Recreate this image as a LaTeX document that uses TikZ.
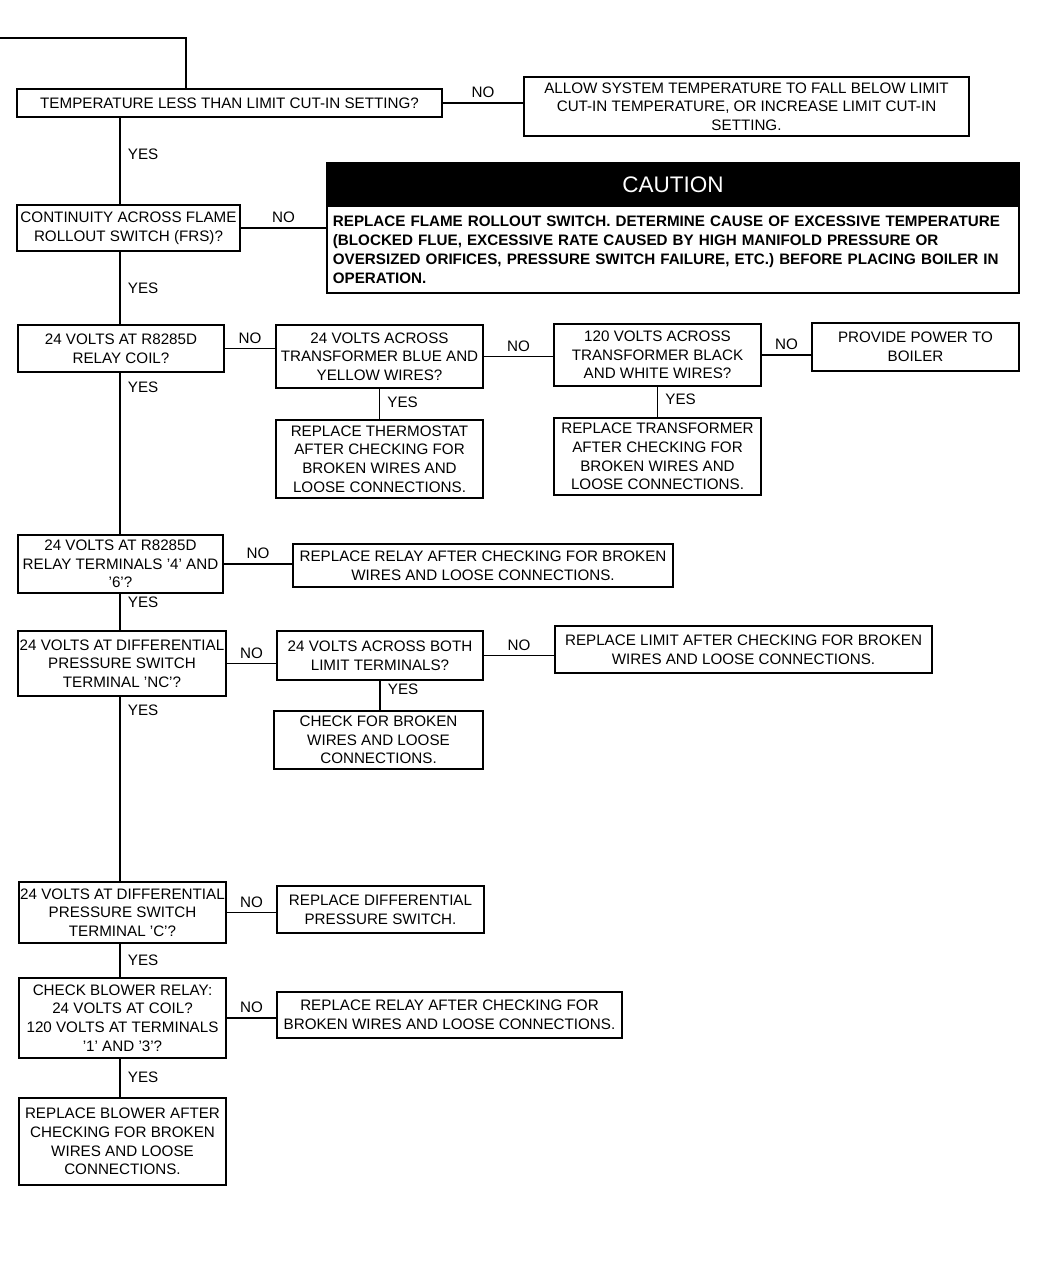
\documentclass[tikz,border=0pt]{standalone}
\usepackage{fontspec}
\setmainfont{Liberation Sans}
\usetikzlibrary{positioning}

\begin{document}
\begin{tikzpicture}[x=0.025cm,y=-0.025cm,line width=1.2pt,
    box node/.style={draw,line width=1.2pt,align=center,inner xsep=0pt,inner ysep=1pt,
                     minimum width=5.175cm,font=\fontsize{10.8}{13.2}\selectfont},
    yes node/.style={right,inner sep=5pt,font=\fontsize{10.8}{13.2}\selectfont},
    no node/.style={above,inner sep=3pt,font=\fontsize{10.8}{13.2}\selectfont}]

  \useasboundingbox (0,0) rectangle (1045,1280);
  \coordinate (entry) at (0,38);
  \coordinate (bend) at (186,38);
  \coordinate (trunk) at (120,0);

  % main column
  \node[box node,minimum width=10.625cm,minimum height=0.7cm] (temp) at (229.5,103)
    {TEMPERATURE LESS THAN LIMIT CUT-IN SETTING?};
  \node[box node,minimum width=5.575cm,minimum height=1.15cm] (frs) at (128.5,228)
    {CONTINUITY ACROSS FLAME\\ROLLOUT SWITCH (FRS)?};
  \node[box node,minimum width=5.15cm,minimum height=1.175cm] (coil) at (121,348.5)
    {24 VOLTS AT R8285D\\RELAY COIL?};
  \node[box node,minimum width=5.125cm,minimum height=1.45cm] (relay) at (120.5,564)
    {24 VOLTS AT R8285D\\RELAY TERMINALS '4' AND\\'6'?};
  \node[box node,minimum width=5.2cm,minimum height=1.625cm] (nc) at (122,663.5)
    {24 VOLTS AT DIFFERENTIAL\\PRESSURE SWITCH\\TERMINAL 'NC'?};
  \node[box node,minimum height=1.525cm] (com) at (122.5,912.5)
    {24 VOLTS AT DIFFERENTIAL\\PRESSURE SWITCH\\TERMINAL 'C'?};
  \node[box node,minimum height=2cm] (blower) at (122.5,1018)
    {CHECK BLOWER RELAY:\\24 VOLTS AT COIL?\\120 VOLTS AT TERMINALS\\'1' AND '3'?};
  \node[box node,minimum height=2.175cm] (newblower) at (122.5,1141.5)
    {REPLACE BLOWER AFTER\\CHECKING FOR BROKEN\\WIRES AND LOOSE\\CONNECTIONS.};

  % side boxes
  \node[box node,minimum width=11.125cm,minimum height=1.475cm] (allow) at (746.5,106.5)
    {ALLOW SYSTEM TEMPERATURE TO FALL BELOW LIMIT\\CUT-IN TEMPERATURE, OR INCREASE LIMIT CUT-IN\\SETTING.};
  \node[box node,fill=black,text=white,minimum width=17.3cm,minimum height=1.075cm,
        font=\fontsize{16}{18}\selectfont] (caution) at (673,184.5) {CAUTION};
  \node[box node,minimum width=17.3cm,minimum height=2.175cm,text width=17cm,align=left,
        font=\bfseries\fontsize{10.8}{13.5}\selectfont] (rollout) at (673,249.5)
    {REPLACE FLAME ROLLOUT SWITCH. DETERMINE CAUSE OF EXCESSIVE TEMPERATURE\\
     (BLOCKED FLUE, EXCESSIVE RATE CAUSED BY HIGH MANIFOLD PRESSURE OR\\
     OVERSIZED ORIFICES, PRESSURE SWITCH FAILURE, ETC.) BEFORE PLACING BOILER IN\\
     OPERATION.};
  \node[box node,minimum height=1.575cm] (blue) at (379.5,356.5)
    {24 VOLTS ACROSS\\TRANSFORMER BLUE AND\\YELLOW WIRES?};
  \node[box node,minimum height=1.55cm] (black) at (657.5,355)
    {120 VOLTS ACROSS\\TRANSFORMER BLACK\\AND WHITE WIRES?};
  \node[box node,minimum height=1.2cm] (power) at (915.5,347)
    {PROVIDE POWER TO\\BOILER};
  \node[box node,minimum height=1.95cm] (tstat) at (379.5,459)
    {REPLACE THERMOSTAT\\AFTER CHECKING FOR\\BROKEN WIRES AND\\LOOSE CONNECTIONS.};
  \node[box node,minimum height=1.925cm] (xfmr) at (657.5,456.5)
    {REPLACE TRANSFORMER\\AFTER CHECKING FOR\\BROKEN WIRES AND\\LOOSE CONNECTIONS.};
  \node[box node,minimum width=9.5cm,minimum height=1.075cm] (newrelay) at (483,565.5)
    {REPLACE RELAY AFTER CHECKING FOR BROKEN\\WIRES AND LOOSE CONNECTIONS.};
  \node[box node,minimum width=5.15cm,minimum height=1.225cm] (limit) at (380,655.5)
    {24 VOLTS ACROSS BOTH\\LIMIT TERMINALS?};
  \node[box node,minimum width=9.425cm,minimum height=1.175cm] (newlimit) at (743.5,649.5)
    {REPLACE LIMIT AFTER CHECKING FOR BROKEN\\WIRES AND LOOSE CONNECTIONS.};
  \node[box node,minimum width=5.225cm,minimum height=1.45cm] (wires) at (378.5,740)
    {CHECK FOR BROKEN\\WIRES AND LOOSE\\CONNECTIONS.};
  \node[box node,minimum height=1.175cm] (newswitch) at (380.5,909.5)
    {REPLACE DIFFERENTIAL\\PRESSURE SWITCH.};
  \node[box node,minimum width=8.625cm,minimum height=1.15cm] (newblowrelay) at (449.5,1015)
    {REPLACE RELAY AFTER CHECKING FOR\\BROKEN WIRES AND LOOSE CONNECTIONS.};

  % connectors
  \draw (entry) -- (bend) -- (bend |- temp.north);
  \draw (temp.south -| trunk) -- (frs.north -| trunk) node[yes node,pos=.42] {YES};
  \draw (frs.south -| trunk) -- (coil.north -| trunk) node[yes node,pos=.5] {YES};
  \draw (coil.south -| trunk) -- (relay.north -| trunk) node[yes node,pos=.09] {YES};
  \draw (relay.south -| trunk) -- (nc.north -| trunk) node[yes node,pos=.24] {YES};
  \draw (nc.south -| trunk) -- (com.north -| trunk) node[yes node,pos=.075] {YES};
  \draw (com.south -| trunk) -- (blower.north -| trunk) node[yes node,pos=.49] {YES};
  \draw (blower.south -| trunk) -- (newblower.north -| trunk) node[yes node,pos=.48] {YES};

  \draw (temp) -- (temp -| allow.west) node[no node,midway] {NO};
  \draw (frs) -- (frs -| rollout.west) node[no node,midway] {NO};
  \draw (coil) -- (coil -| blue.west) node[no node,midway] {NO};
  \draw (blue) -- (blue -| black.west) node[no node,midway] {NO};
  \draw (black) -- (black -| power.west) node[no node,midway] {NO};
  \draw (relay) -- (relay -| newrelay.west) node[no node,midway] {NO};
  \draw (nc) -- (nc -| limit.west) node[no node,midway] {NO};
  \draw (limit) -- (limit -| newlimit.west) node[no node,midway] {NO};
  \draw (com) -- (com -| newswitch.west) node[no node,midway] {NO};
  \draw (blower) -- (blower -| newblowrelay.west) node[no node,midway] {NO};

  \draw (blue) -- (tstat) node[yes node,pos=.44] {YES};
  \draw (black) -- (xfmr) node[yes node,pos=.4] {YES};
  \draw (limit) -- (limit |- wires.north) node[yes node,pos=.29] {YES};
\end{tikzpicture}
\end{document}
